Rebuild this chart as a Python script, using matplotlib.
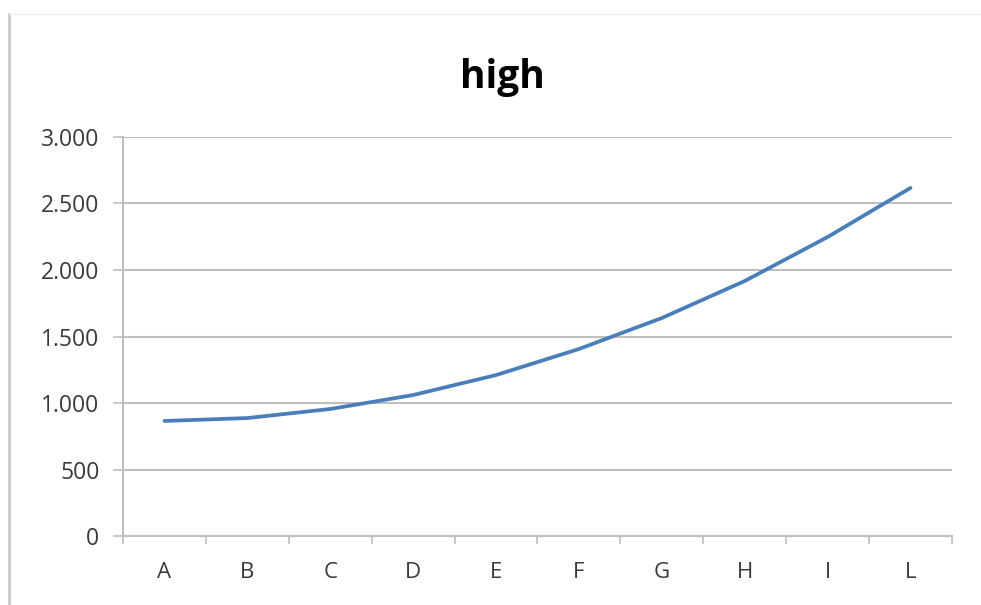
import numpy as np
import matplotlib.pyplot as plt
from matplotlib.lines import Line2D
from matplotlib.ticker import FuncFormatter, FixedLocator

categories = ["A", "B", "C", "D", "E", "F", "G", "H", "I", "L"]
values = [865, 887, 955, 1060, 1210, 1406, 1639, 1917, 2248, 2617]
y_ticks = [0, 500, 1000, 1500, 2000, 2500, 3000]

grid_col = "#bfbfbf"
text_col = "#3a3a3a"
plt.rcParams["font.family"] = ["Open Sans", "DejaVu Sans"]

fig = plt.figure(figsize=(9.81, 6.05), dpi=100)
fig.patch.set_facecolor("white")
ax = fig.add_axes([0.1254, 0.114, 0.845, 0.6596])

x = np.arange(len(categories))
ax.plot(x, values, color="#4a7ebb", linewidth=2.7, solid_capstyle="round")

ax.set_xlim(-0.5, len(categories) - 0.5)
ax.set_ylim(0, 3000)
ax.set_yticks(y_ticks)
ax.yaxis.set_major_formatter(FuncFormatter(lambda v, p: f"{int(v):,}".replace(",", ".")))

# categories sit between the tick marks
ax.xaxis.set_major_locator(FixedLocator(np.arange(-0.5, len(categories), 1.0)))
ax.xaxis.set_major_formatter(FuncFormatter(lambda v, p: ""))
ax.xaxis.set_minor_locator(FixedLocator(x))
ax.set_xticklabels(categories, minor=True)
ax.tick_params(axis="x", which="minor", length=0, pad=19, labelsize=16, labelcolor=text_col)
ax.tick_params(axis="x", which="major", length=6, width=1.2, color=grid_col, direction="out")
ax.tick_params(axis="y", length=7, width=1.2, color=grid_col, direction="out",
               labelsize=16.5, labelcolor=text_col, pad=10)

ax.grid(axis="y", color=grid_col, linewidth=1.5)
ax.set_axisbelow(True)
for side in ["top", "right"]:
    ax.spines[side].set_visible(False)
for side in ["left", "bottom"]:
    ax.spines[side].set_color(grid_col)
    ax.spines[side].set_linewidth(1.5)

fig.text(0.512, 0.872, "high", ha="center", va="center", fontsize=28,
         fontweight="bold", color="black")

# outer chart frame
fig.add_artist(Line2D([0.009, 0.009], [0.0, 0.977], color="#c8c8c8", linewidth=2))
fig.add_artist(Line2D([0.009, 1.0], [0.977, 0.977], color="#f0f0f0", linewidth=1))

fig.savefig("out.png", dpi=100)
